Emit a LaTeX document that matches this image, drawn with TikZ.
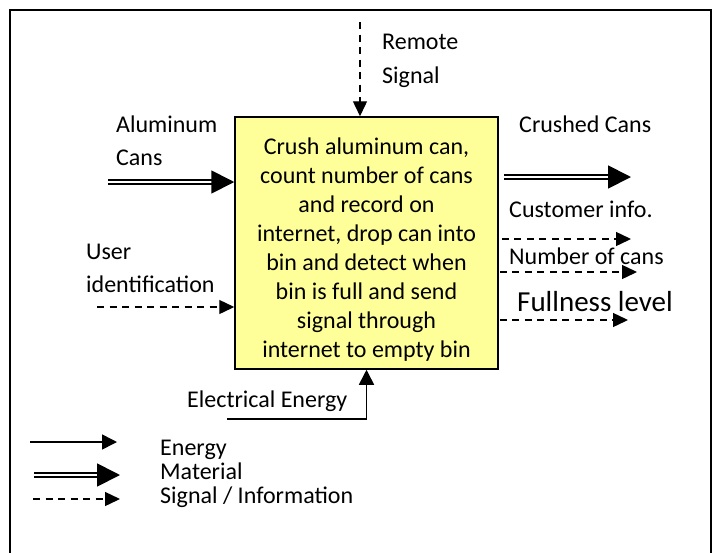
\documentclass[tikz,border=0pt]{standalone}
\usepackage{fontspec}
\setmainfont{Carlito}
\usepackage{xcolor}
\usetikzlibrary{arrows.meta}
\definecolor{boxyellow}{HTML}{FFFF99}
\tikzset{
  energy/.style={line width=1.6pt,-{Triangle[length=15pt,width=15pt]}},
  material/.style={double,double distance=2.4pt,line width=1.8pt,-{Triangle[length=23pt,width=23pt]}},
  signal/.style={line width=1.4pt,dash pattern=on 7pt off 5.5pt,-{Triangle[length=15pt,width=14pt]}},
  lbl/.style={font=\fontsize{24}{29}\selectfont,inner sep=0pt,anchor=base west,align=left},
}
\begin{document}
\begin{tikzpicture}[x=1pt,y=-1pt]

\useasboundingbox (0,0) rectangle (714,552);
\draw[line width=1.5pt] (10,10) rectangle (711,600);

% function box
\node[draw,line width=1.5pt,fill=boxyellow,minimum width=263pt,minimum height=252pt,inner sep=0pt,align=center,font=\fontsize{24}{29}\selectfont] (fn) at (366.5,243) {\rule{0pt}{29pt}Crush aluminum can,\\count number of cans\\and record on\\internet, drop can into\\bin and detect when\\bin is full and send\\signal through\\internet to empty bin};

% inputs (base = last line)
\node[lbl] (remote) at (382,83) {Remote\\[5pt]Signal};
\node[lbl] (alum) at (116,165) {Aluminum\\[4pt]Cans};
\node[lbl] (user) at (86,292) {User\\[4pt]identification};
\node[lbl] (elec) at (187,407) {Electrical Energy};

\coordinate (rmin) at (360,22);
\draw[signal] (rmin) -- (rmin |- fn.north);
\coordinate (alin) at (108,182);
\draw[material] (alin) -- (alin -| fn.west);
\coordinate (usin) at (97,307);
\draw[signal] (usin) -- (usin -| fn.west);
\coordinate (elin) at (227,419);
\draw[energy] (elin) -| (fn.south);

% outputs
\node[lbl] (crushed) at (519,132) {Crushed Cans};
\node[lbl] (cust) at (509,217) {Customer info.};
\node[lbl] (numcans) at (509,264) {Number of cans};
\node[lbl,font=\fontsize{29}{34}\selectfont] (full) at (517,311) {Fullness level};

\coordinate (crout) at (631,177);
\draw[material] ([xshift=5pt]fn.east |- crout) -- (crout);
\coordinate (cuout) at (631,239);
\draw[signal] ([xshift=3pt]fn.east |- cuout) -- (cuout);
\coordinate (nuout) at (637,272);
\draw[signal] ([xshift=1pt]fn.east |- nuout) -- (nuout);
\coordinate (fuout) at (628,320);
\draw[signal] ([xshift=1pt]fn.east |- fuout) -- (fuout);

% legend
\coordinate (enA) at (30,442); \coordinate (enB) at (117,442);
\draw[energy] (enA) -- (enB);
\coordinate (maA) at (34,475); \coordinate (maB) at (120,475);
\draw[material] (maA) -- (maB);
\coordinate (siA) at (33,499); \coordinate (siB) at (120,499);
\draw[signal] (siA) -- (siB);
\node[lbl,font=\fontsize{24}{24}\selectfont] (legend) at (160,503) {Energy\\Material\\Signal / Information};

\end{tikzpicture}
\end{document}
